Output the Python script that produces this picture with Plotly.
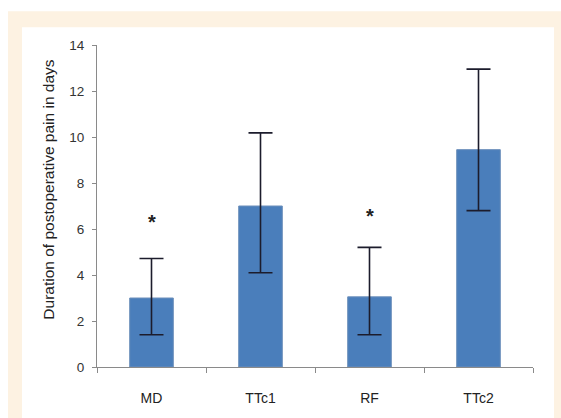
import plotly.graph_objects as go

categories = ["MD", "TTc1", "RF", "TTc2"]
means = [3.0, 7.0, 3.05, 9.45]
err_plus = [1.72, 3.18, 2.15, 3.5]
err_minus = [1.6, 2.9, 1.65, 2.65]
star_categories = ["MD", "RF"]
star_values = [6.3, 6.55]
y_ticks = [0, 2, 4, 6, 8, 10, 12, 14]
y_title = "Duration of postoperative pain in days"

FONT = "Liberation Sans, Arial, sans-serif"

FW, FH = 561, 418
L, R, T, B = 97, 533, 45, 370
W, H = R - L, B - T
def px(x): return (x - L) / W
def py(y): return (B - y) / H

fig = go.Figure()
fig.add_trace(go.Bar(
    x=categories, y=means,
    marker=dict(color="#4A7EBB", line=dict(color="#6c8fbb", width=1)),
    width=0.4,
    hoverinfo="skip",
    error_y=dict(type="data", symmetric=False, array=err_plus, arrayminus=err_minus,
                 color="#1c1c2c", thickness=1.6, width=12),
))

for c, v in zip(star_categories, star_values):
    fig.add_annotation(x=c, y=v, text="<b>*</b>", showarrow=False,
                       font=dict(size=20, color="#222", family=FONT))

fig.add_annotation(xref="paper", yref="paper", x=px(49), y=py(191),
                   text=y_title, textangle=-90, showarrow=False,
                   xanchor="center", yanchor="middle",
                   font=dict(size=15.5, family=FONT, color="#222"))

fig.add_shape(type="rect", xref="paper", yref="paper", layer="below",
              x0=px(8), x1=px(570), y0=py(430), y1=py(11),
              fillcolor="#FDF2E2", line=dict(width=0))
fig.add_shape(type="rect", xref="paper", yref="paper", layer="below",
              x0=px(22), x1=px(554), y0=py(430), y1=py(27),
              fillcolor="#FFFFFF", line=dict(width=0))

fig.update_layout(
    width=FW, height=FH,
    margin=dict(l=L, r=FW - R, t=T, b=FH - B),
    paper_bgcolor="white", plot_bgcolor="rgba(0,0,0,0)",
    showlegend=False,
    font=dict(family=FONT, color="#222"),
    xaxis=dict(
        showline=True, linecolor="#8a8a8a", linewidth=1.2,
        ticks="outside", tickson="boundaries", ticklen=5, tickcolor="#8a8a8a",
        tickfont=dict(size=14, family=FONT, color="#222"),
        ticklabelstandoff=18,
        showgrid=False, zeroline=False,
    ),
    yaxis=dict(
        range=[0, 14], tickvals=y_ticks,
        showline=True, linecolor="#8a8a8a", linewidth=1.2,
        ticks="outside", ticklen=4, tickcolor="#8a8a8a",
        tickfont=dict(size=13.5, family=FONT, color="#333"),
        ticklabelstandoff=5,
        showgrid=False, zeroline=False,
    ),
)

fig.write_html("out.html", config={"displayModeBar": False},
               post_script="document.body.style.margin='0';document.body.style.overflow='hidden';")
